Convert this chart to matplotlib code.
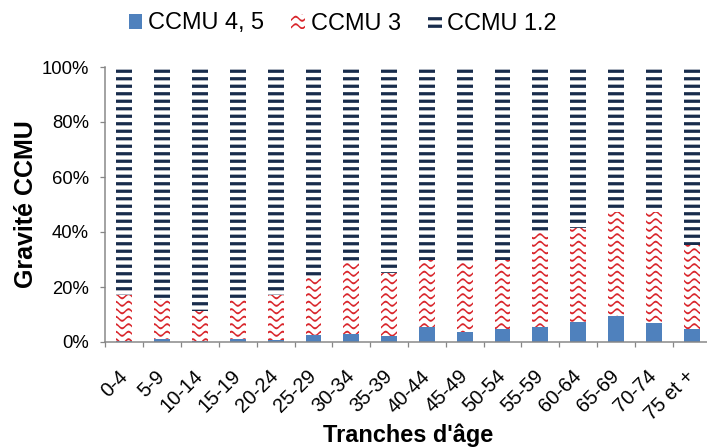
import warnings
warnings.filterwarnings("ignore")
import numpy as np
import matplotlib
matplotlib.use("Agg")
import matplotlib.pyplot as plt
import matplotlib.hatch as mhatch
from matplotlib.path import Path
from matplotlib.transforms import ScaledTranslation

# ---------------- data ----------------
categories = ["0-4", "5-9", "10-14", "15-19", "20-24", "25-29", "30-34", "35-39",
              "40-44", "45-49", "50-54", "55-59", "60-64", "65-69", "70-74", "75 et +"]
ccmu45 = [0.5, 1.0, 0.3, 1.0, 0.8, 2.7, 2.8, 2.3, 5.5, 3.7, 4.6, 5.5, 7.3, 9.4, 6.8, 4.6]
ccmu3 = [16.6, 14.5, 11.0, 14.3, 16.3, 20.5, 26.0, 22.9, 24.2, 24.9, 25.1, 34.6, 34.0, 38.0, 40.4, 30.6]
ccmu12 = [82.9, 84.5, 88.7, 84.7, 82.9, 76.8, 71.2, 74.8, 70.3, 71.4, 70.3, 59.9, 58.7, 52.6, 52.8, 64.8]
series_labels = ["CCMU 4, 5", "CCMU 3", "CCMU 1.2"]
yticks = [0, 20, 40, 60, 80, 100]
ytick_labels = ["0%", "20%", "40%", "60%", "80%", "100%"]

DPI = 90

# ---------------- custom hatch patterns ----------------
class WaveHatch(mhatch.HatchPatternBase):
    """Red wavy pattern (filled thin bands), char '~'."""
    NPER = 7
    SPP = 10
    def __init__(self, hatch, density):
        self.num_rows = hatch.count('~') * 12
        self.n = self.NPER * self.SPP + 1
        self.num_vertices = self.num_rows * (2 * self.n + 1)
    def set_vertices_and_codes(self, vertices, codes):
        n = self.n
        xs = np.linspace(0, 1, n)
        amp = 4.2 / DPI / 2
        th = 2.0 / DPI
        wave = amp * np.cos(2 * np.pi * self.NPER * xs)
        per = 2 * n + 1
        for i in range(self.num_rows):
            yc = (i + 0.5) / self.num_rows
            top = np.column_stack([xs, yc + wave + th / 2])
            bot = np.column_stack([xs[::-1], (yc + wave - th / 2)[::-1]])
            v = np.vstack([top, bot, top[:1]])
            vertices[i * per:(i + 1) * per] = v
            c = np.full(per, Path.LINETO, dtype=Path.code_type)
            c[0] = Path.MOVETO
            c[-1] = Path.CLOSEPOLY
            codes[i * per:(i + 1) * per] = c


class DashHatch(mhatch.HatchPatternBase):
    """Thick horizontal dashes (filled rectangles), char '='."""
    def __init__(self, hatch, density):
        self.num_rows = hatch.count('=') * 12
        self.num_vertices = self.num_rows * 5
    def set_vertices_and_codes(self, vertices, codes):
        h = 3.2 / DPI
        for i in range(self.num_rows):
            y0 = (i + 0.5) / self.num_rows - h / 2
            vertices[i * 5:(i + 1) * 5] = [[0, y0], [1, y0], [1, y0 + h], [0, y0 + h], [0, y0]]
            codes[i * 5:(i + 1) * 5] = [Path.MOVETO, Path.LINETO, Path.LINETO,
                                        Path.LINETO, Path.CLOSEPOLY]


mhatch._hatch_types.append(WaveHatch)
mhatch._hatch_types.append(DashHatch)

plt.rcParams['font.family'] = ['Liberation Sans', 'DejaVu Sans']
plt.rcParams['hatch.linewidth'] = 0.01

BLUE = '#4F81BD'
RED = '#D9262C'
NAVY = '#182C4C'
GRAY = '#868686'

fig = plt.figure(figsize=(707 / DPI, 448 / DPI), dpi=DPI)
ax = fig.add_axes([105.5 / 707, (448 - 342) / 448, 605 / 707, 275 / 448])

x = np.arange(len(categories))
w = 0.42
b45 = np.array(ccmu45)
b3 = np.array(ccmu3)
bars1 = ax.bar(x, ccmu45, w, color=BLUE, linewidth=0, label=series_labels[0])
bars2 = ax.bar(x, ccmu3, w, bottom=b45, facecolor='white', edgecolor=RED,
               hatch='~', linewidth=0, label=series_labels[1])
bars3 = ax.bar(x, ccmu12, w, bottom=b45 + b3, facecolor='white', edgecolor=NAVY,
               hatch='=', linewidth=0, label=series_labels[2])

ax.set_xlim(-0.5, len(categories) - 0.5)
ax.set_ylim(0, 100)
ax.set_yticks(yticks)
ax.set_yticklabels(ytick_labels, fontsize=14.8)
ax.set_xticks(x)
ax.set_xticklabels(categories, fontsize=16, rotation=45, ha='right', va='center',
                   rotation_mode='anchor')
ax.set_xticks(np.arange(-0.5, len(categories), 1.0), minor=True)
for lab in ax.get_xticklabels():
    lab.set_transform(lab.get_transform() + ScaledTranslation(5 / DPI, 0, fig.dpi_scale_trans))

ax.tick_params(axis='x', which='major', length=0, pad=25)
ax.tick_params(axis='x', which='minor', length=4, width=1, color=GRAY, direction='out')
ax.tick_params(axis='y', which='major', length=4, width=1, color=GRAY, direction='out', pad=9.2)

for s in ['top', 'right']:
    ax.spines[s].set_visible(False)
for s in ['left', 'bottom']:
    ax.spines[s].set_color(GRAY)
    ax.spines[s].set_linewidth(1.2)

ax.set_ylabel("Gravité CCMU", fontsize=20, fontweight='bold')
ax.yaxis.set_label_coords(-0.112, 0.5)
ax.set_xlabel("Tranches d'âge", fontsize=18.8, fontweight='bold')
ax.xaxis.label.set_va('baseline')
ax.xaxis.set_label_coords(0.5, -(442 - 342) / 275)

fig.legend([bars1, bars2, bars3], series_labels, loc='center',
           bbox_to_anchor=(0.485, 1 - 23.5 / 448), ncol=3, frameon=False,
           fontsize=18.8, handlelength=0.58, handleheight=0.58, handletextpad=0.25,
           columnspacing=1.15, borderaxespad=0, borderpad=0)

fig.savefig("out.png", dpi=DPI)
